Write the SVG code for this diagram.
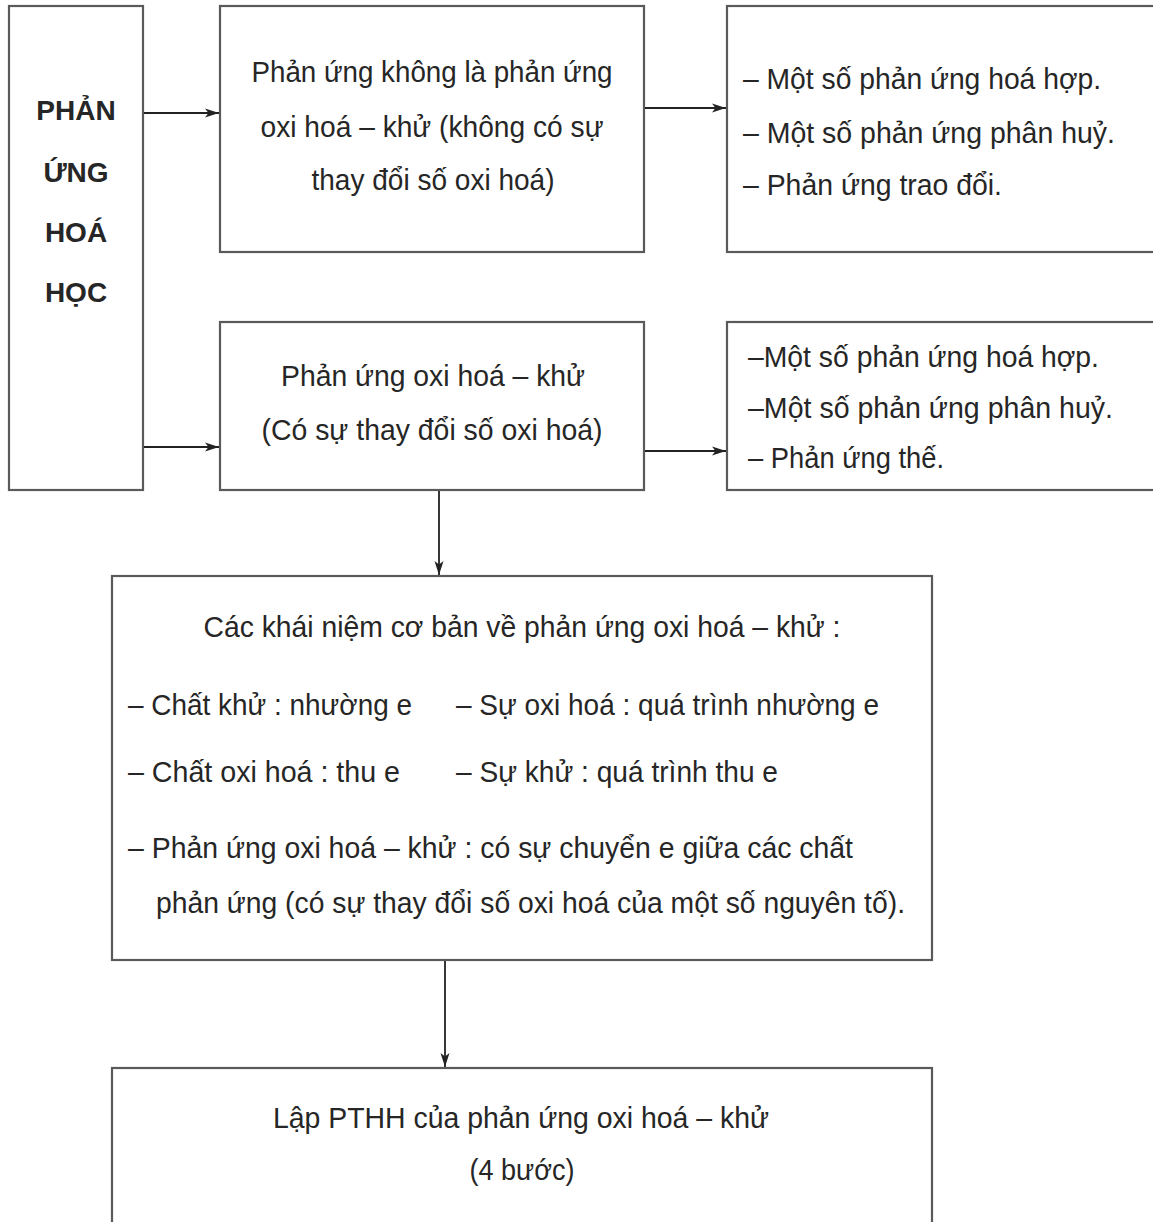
<svg xmlns="http://www.w3.org/2000/svg" width="1153" height="1222" viewBox="0 0 1153 1222">
<style>
.box{fill:#fff;stroke:#5a5a5a;stroke-width:2.2}
.t{font-family:"Liberation Sans",Arial,sans-serif;font-size:30px;fill:#262626}
.b{font-family:"Liberation Sans",Arial,sans-serif;font-size:28px;font-weight:bold;fill:#262626;text-anchor:middle}
.c{text-anchor:middle}
.ln{stroke:#222;stroke-width:1.8;fill:none}
</style>
<defs>
<marker id="ah" markerWidth="14" markerHeight="10" refX="14" refY="5" orient="auto" markerUnits="userSpaceOnUse">
<path d="M0,0.5 L14,5 L0,9.5 L3.5,5 Z" fill="#222"/>
</marker>
</defs>
<rect width="1153" height="1222" fill="#fff"/>
<g id="n-root">
<rect class="box" x="9" y="6" width="134" height="484"/>
<text class="b" x="76" y="120">PHẢN</text>
<text class="b" x="76" y="182">ỨNG</text>
<text class="b" x="76" y="242">HOÁ</text>
<text class="b" x="76" y="302">HỌC</text>
</g>
<g id="n-nonredox">
<rect class="box" x="220" y="6" width="424" height="246"/>
<text class="t c" x="432" y="82" textLength="361" lengthAdjust="spacingAndGlyphs">Phản ứng không là phản ứng</text>
<text class="t c" x="432" y="137" textLength="343" lengthAdjust="spacingAndGlyphs">oxi hoá – khử (không có sự</text>
<text class="t c" x="433" y="190" textLength="243" lengthAdjust="spacingAndGlyphs">thay đổi số oxi hoá)</text>
</g>
<g id="n-nonredox-list">
<rect class="box" x="727" y="6" width="440" height="246"/>
<text class="t" x="743" y="89" textLength="358" lengthAdjust="spacingAndGlyphs">– Một số phản ứng hoá hợp.</text>
<text class="t" x="743" y="143" textLength="372" lengthAdjust="spacingAndGlyphs">– Một số phản ứng phân huỷ.</text>
<text class="t" x="743" y="195" textLength="259" lengthAdjust="spacingAndGlyphs">– Phản ứng trao đổi.</text>
</g>
<g id="n-redox">
<rect class="box" x="220" y="322" width="424" height="168"/>
<text class="t c" x="433" y="386" textLength="304" lengthAdjust="spacingAndGlyphs">Phản ứng oxi hoá – khử</text>
<text class="t c" x="432" y="440" textLength="341" lengthAdjust="spacingAndGlyphs">(Có sự thay đổi số oxi hoá)</text>
</g>
<g id="n-redox-list">
<rect class="box" x="727" y="322" width="440" height="168"/>
<text class="t" x="748" y="367" textLength="351" lengthAdjust="spacingAndGlyphs">–Một số phản ứng hoá hợp.</text>
<text class="t" x="748" y="418" textLength="365" lengthAdjust="spacingAndGlyphs">–Một số phản ứng phân huỷ.</text>
<text class="t" x="748" y="468" textLength="196" lengthAdjust="spacingAndGlyphs">– Phản ứng thế.</text>
</g>
<g id="n-concepts">
<rect class="box" x="112" y="576" width="820" height="384"/>
<text class="t c" x="522" y="637" textLength="637" lengthAdjust="spacingAndGlyphs">Các khái niệm cơ bản về phản ứng oxi hoá – khử :</text>
<text class="t" x="128" y="715" textLength="284" lengthAdjust="spacingAndGlyphs">– Chất khử : nhường e</text>
<text class="t" x="456" y="715" textLength="423" lengthAdjust="spacingAndGlyphs">– Sự oxi hoá : quá trình nhường e</text>
<text class="t" x="128" y="782" textLength="272" lengthAdjust="spacingAndGlyphs">– Chất oxi hoá : thu e</text>
<text class="t" x="456" y="782" textLength="322" lengthAdjust="spacingAndGlyphs">– Sự khử : quá trình thu e</text>
<text class="t" x="128" y="858" textLength="725" lengthAdjust="spacingAndGlyphs">– Phản ứng oxi hoá – khử : có sự chuyển e giữa các chất</text>
<text class="t" x="156" y="913" textLength="749" lengthAdjust="spacingAndGlyphs">phản ứng (có sự thay đổi số oxi hoá của một số nguyên tố).</text>
</g>
<g id="n-balance">
<rect class="box" x="112" y="1068" width="820" height="170"/>
<text class="t c" x="521" y="1128" textLength="496" lengthAdjust="spacingAndGlyphs">Lập PTHH của phản ứng oxi hoá – khử</text>
<text class="t c" x="522" y="1180" textLength="105" lengthAdjust="spacingAndGlyphs">(4 bước)</text>
</g>
<g id="connectors">
<line class="ln" x1="144" y1="113" x2="219" y2="113" marker-end="url(#ah)"/>
<line class="ln" x1="144" y1="447" x2="219" y2="447" marker-end="url(#ah)"/>
<line class="ln" x1="645" y1="108" x2="726" y2="108" marker-end="url(#ah)"/>
<line class="ln" x1="645" y1="451" x2="726" y2="451" marker-end="url(#ah)"/>
<line class="ln" x1="439" y1="491" x2="439" y2="575" marker-end="url(#ah)"/>
<line class="ln" x1="445" y1="961" x2="445" y2="1067" marker-end="url(#ah)"/>
</g>
</svg>
